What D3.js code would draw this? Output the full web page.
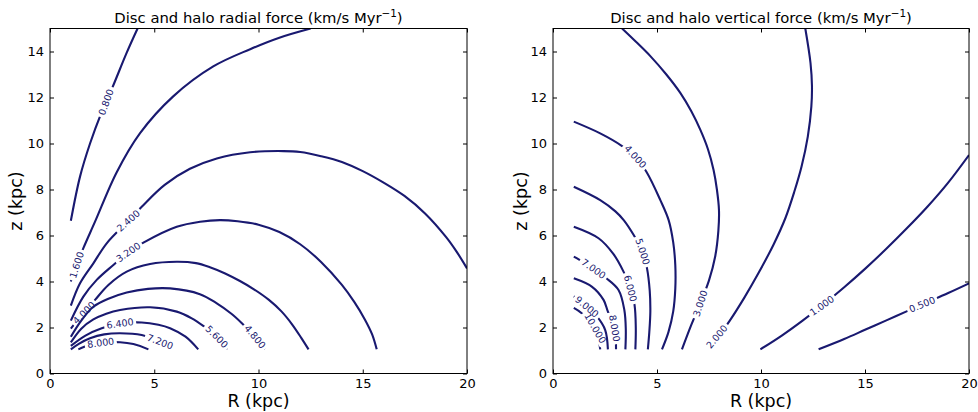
<!DOCTYPE html>
<html><head><meta charset="utf-8">
<script src="https://cdn.jsdelivr.net/npm/d3@7"></script>
<style>
body{margin:0;background:#fff}
svg{display:block}
text{font-family:"DejaVu Sans",sans-serif}
</style>
</head><body>
<svg id="chart" width="978" height="412"></svg>
<script>
// ---------- data ----------
const xTicks = [0, 5, 10, 15, 20];
const yTicks = [0, 2, 4, 6, 8, 10, 12, 14];

// Radial force contours (R kpc, z kpc)
const radialLevels = ["0.800","1.600","2.400","3.200","4.000","4.800","5.600","6.400","7.200","8.000"];
const radialContours = [
  [[1.0,6.64],[1.44,8.56],[1.92,10.0],[2.45,11.3],[3.0,12.45],[3.68,13.95],[4.2,15.0]],
  [[1.0,4.0],[1.28,4.72],[1.6,5.45],[2.16,6.6],[3.2,8.75],[4.32,10.45],[5.91,12.05],[7.83,13.35],[9.6,14.1],[11.0,14.6],[12.5,15.0]],
  [[1.0,2.95],[1.44,3.92],[2.08,4.79],[2.72,5.66],[3.76,6.64],[4.4,7.25],[5.5,8.2],[6.71,8.9],[8.0,9.35],[9.6,9.62],[11.2,9.67],[12.0,9.63],[13.0,9.45],[14.0,9.2],[15.0,8.8],[16.0,8.3],[17.0,7.72],[18.0,6.95],[19.0,5.93],[19.5,5.3],[20.0,4.57]],
  [[1.0,2.3],[1.6,3.34],[2.24,4.07],[3.04,4.72],[3.76,5.27],[4.48,5.69],[6.08,6.38],[7.2,6.6],[8.15,6.67],[9.0,6.62],[10.0,6.47],[11.0,6.15],[12.0,5.62],[13.0,4.85],[14.0,3.85],[14.6,3.1],[15.1,2.35],[15.45,1.7],[15.67,1.05]],
  [[1.0,1.95],[1.3,2.3],[1.63,2.64],[2.16,3.2],[2.8,3.85],[3.68,4.43],[4.8,4.76],[6.08,4.86],[7.0,4.8],[7.67,4.62],[8.4,4.35],[9.11,4.02],[9.8,3.65],[10.5,3.2],[11.1,2.7],[11.6,2.15],[12.05,1.55],[12.4,1.05]],
  [[1.0,1.6],[1.5,2.3],[2.08,2.9],[2.8,3.25],[3.68,3.52],[4.7,3.68],[5.76,3.7],[7.19,3.45],[8.0,3.05],[8.7,2.6],[9.19,2.2],[9.83,1.6],[10.3,1.05]],
  [[1.0,1.35],[1.5,1.95],[2.08,2.35],[2.7,2.6],[3.36,2.76],[4.8,2.88],[6.08,2.69],[6.8,2.4],[7.35,2.07],[8.0,1.6],[8.5,1.05]],
  [[1.0,1.2],[1.7,1.65],[2.48,1.97],[3.36,2.17],[4.4,2.22],[5.2,2.12],[5.76,1.97],[6.5,1.6],[7.11,1.05]],
  [[1.0,1.05],[1.4,1.3],[1.92,1.53],[2.6,1.7],[3.36,1.75],[4.4,1.67],[5.28,1.38],[5.8,1.05]],
  [[1.36,1.05],[1.9,1.25],[2.43,1.33],[3.36,1.36],[4.0,1.28],[4.72,1.05]]
];
// label anchor (R, z) and screen angle in degrees
const radialLabelSpots = [
  [2.69,11.8,-70],[1.28,4.72,-72],[3.76,6.64,-42],[3.76,5.27,-35],[1.63,2.64,-45],
  [9.83,1.6,50],[8.0,1.6,45],[3.36,2.17,-8],[5.28,1.38,20],[2.43,1.33,-8]
];

// Vertical force contours
const verticalLevels = ["0.500","1.000","2.000","3.000","4.000","5.000","6.000","7.000","8.000","9.000","10.000"];
const verticalContours = [
  [[12.77,1.05],[14.0,1.5],[15.0,1.9],[16.0,2.3],[17.0,2.7],[18.0,3.1],[19.0,3.5],[20.0,3.92]],
  [[9.97,1.05],[11.0,1.65],[12.0,2.3],[13.0,3.0],[14.0,3.75],[15.0,4.55],[16.0,5.4],[17.0,6.3],[18.0,7.25],[19.0,8.3],[20.0,9.5]],
  [[7.5,1.05],[7.9,1.55],[8.5,2.3],[9.2,3.3],[9.9,4.4],[10.6,5.6],[11.17,6.75],[11.6,7.9],[11.95,9.0],[12.25,10.3],[12.42,11.6],[12.45,12.5],[12.38,13.5],[12.13,15.0]],
  [[6.2,1.05],[6.62,2.05],[7.08,3.05],[7.5,4.05],[7.8,5.1],[7.95,6.2],[7.98,7.1],[7.88,8.0],[7.72,8.85],[7.45,9.75],[7.08,10.6],[6.65,11.4],[6.12,12.2],[5.45,13.0],[4.68,13.8],[3.9,14.5],[3.32,15.0]],
  [[1.0,10.95],[2.27,10.44],[3.32,9.89],[3.96,9.43],[4.49,8.77],[5.16,7.54],[5.56,6.67],[5.78,5.7],[5.88,4.7],[5.88,3.7],[5.78,2.7],[5.55,1.8],[5.24,1.05]],
  [[1.0,8.12],[2.27,7.54],[3.0,7.05],[3.4,6.67],[3.88,6.02],[4.31,5.3],[4.52,4.57],[4.65,3.6],[4.68,2.7],[4.63,1.8],[4.56,1.05]],
  [[1.0,6.38],[2.19,5.88],[2.9,5.2],[3.39,4.43],[3.72,3.7],[3.92,2.98],[3.98,2.0],[3.96,1.05]],
  [[1.0,5.08],[1.5,4.82],[1.95,4.55],[2.55,4.15],[3.15,3.63],[3.43,2.76],[3.5,1.9],[3.48,1.05]],
  [[1.0,4.14],[1.88,3.77],[2.43,3.2],[2.64,2.69],[2.96,1.97],[3.03,1.05]],
  [[1.0,3.35],[1.63,2.9],[2.12,2.47],[2.51,1.89],[2.64,1.05]],
  [[1.0,2.85],[1.38,2.62],[2.03,1.97],[2.27,1.05]]
];
const verticalLabelSpots = [
  [17.75,3.0,-22],[12.93,2.95,-35],[7.88,1.6,-50],[7.08,3.05,-72],[3.96,9.43,48],
  [4.31,5.3,72],[3.72,3.7,75],[1.95,4.55,35],[2.96,1.97,80],[1.63,2.9,40],[2.03,1.97,60]
];

// ---------- drawing ----------
const svg = d3.select("#chart");
const defs = svg.append("defs");
const lineColor = "#191970";

function drawPanel(cfg) {
  const x = d3.scaleLinear().domain([0, 20]).range([cfg.x0, cfg.x1]);
  const y = d3.scaleLinear().domain([0, 15]).range([373.5, 28.5]);
  const g = svg.append("g");

  defs.append("clipPath").attr("id", "clip-" + cfg.id)
    .append("rect").attr("x", cfg.x0).attr("y", 28.5)
    .attr("width", cfg.x1 - cfg.x0).attr("height", 345);

  const line = d3.line().x(d => x(d[0])).y(d => y(d[1]))
    .curve(d3.curveCatmullRom.alpha(0.5));

  const linesG = g.append("g").attr("clip-path", `url(#clip-${cfg.id})`);
  const labelsG = g.append("g");

  cfg.contours.forEach((pts, i) => {
    const [lr, lz, ang] = cfg.spots[i];
    const lx = x(lr), ly = y(lz);
    const t = labelsG.append("text")
      .attr("transform", `translate(${lx},${ly}) rotate(${ang})`)
      .attr("text-anchor", "middle").attr("dy", "0.35em")
      .attr("font-size", 9.5).attr("fill", lineColor)
      .text(cfg.levels[i]);
    const w = t.node().getComputedTextLength() + 5;
    const h = 11;
    const mid = `mask-${cfg.id}-${i}`;
    const m = defs.append("mask").attr("id", mid).attr("maskUnits", "userSpaceOnUse")
      .attr("x", 0).attr("y", 0).attr("width", 978).attr("height", 412);
    m.append("rect").attr("x", 0).attr("y", 0).attr("width", 978).attr("height", 412).attr("fill", "#fff");
    m.append("rect").attr("x", -w / 2).attr("y", -h / 2).attr("width", w).attr("height", h)
      .attr("transform", `translate(${lx},${ly}) rotate(${ang})`).attr("fill", "#000");
    linesG.append("path").datum(pts)
      .attr("d", line).attr("fill", "none")
      .attr("stroke", lineColor).attr("stroke-width", 2.1)
      .attr("stroke-linejoin", "round")
      .attr("mask", `url(#${mid})`);
  });

  // axes (ticks inside, all four sides)
  const axG = g.append("g").attr("font-size", 13);
  const bottom = axG.append("g").attr("transform", "translate(0,373.5)")
    .call(d3.axisBottom(x).tickValues(xTicks).tickSize(-4).tickPadding(5).tickFormat(d3.format("d")));
  const top = axG.append("g").attr("transform", "translate(0,28.5)")
    .call(d3.axisTop(x).tickValues(xTicks).tickSize(-4).tickFormat(""));
  const left = axG.append("g").attr("transform", `translate(${cfg.x0},0)`)
    .call(d3.axisLeft(y).tickValues(yTicks).tickSize(-4).tickPadding(6).tickFormat(d3.format("d")));
  const right = axG.append("g").attr("transform", `translate(${cfg.x1},0)`)
    .call(d3.axisRight(y).tickValues(yTicks).tickSize(-4).tickFormat(""));
  [bottom, top, left, right].forEach(a => {
    a.select(".domain").remove();
    a.selectAll("line").attr("stroke", "#000").attr("stroke-width", 1);
    a.selectAll("text").attr("fill", "#000").attr("font-family", "DejaVu Sans, sans-serif").attr("font-size", 13);
  });
  g.append("rect").attr("x", cfg.x0).attr("y", 28.5)
    .attr("width", cfg.x1 - cfg.x0).attr("height", 345)
    .attr("fill", "none").attr("stroke", "#000").attr("stroke-width", 1);

  // title
  const cx = (cfg.x0 + cfg.x1) / 2;
  const title = g.append("text").attr("x", cx).attr("y", 23)
    .attr("text-anchor", "middle").attr("font-size", 14.8).attr("fill", "#000");
  title.append("tspan").text(cfg.title + " (km/s Myr");
  title.append("tspan").attr("font-size", 10.4).attr("dy", -6).text("\u22121");
  title.append("tspan").attr("dy", 6).text(")");

  g.append("text").attr("x", cx).attr("y", 407)
    .attr("text-anchor", "middle").attr("font-size", 17.5).attr("fill", "#000")
    .text("R (kpc)");
  g.append("text").attr("transform", `translate(${cfg.ylabX},201) rotate(-90)`)
    .attr("text-anchor", "middle").attr("font-size", 17.5).attr("fill", "#000")
    .text("z (kpc)");
}

drawPanel({id: "rad", x0: 50, x1: 467, ylabX: 22, title: "Disc and halo radial force",
  levels: radialLevels, contours: radialContours, spots: radialLabelSpots});
drawPanel({id: "ver", x0: 553, x1: 969, ylabX: 527, title: "Disc and halo vertical force",
  levels: verticalLevels, contours: verticalContours, spots: verticalLabelSpots});
</script>
</body></html>
